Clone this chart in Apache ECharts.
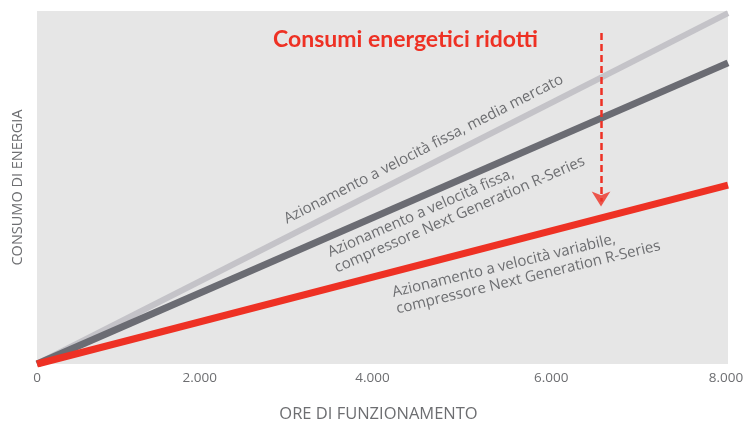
<!DOCTYPE html>
<html><head><meta charset="utf-8">
<script src="https://cdn.jsdelivr.net/npm/echarts@6/dist/echarts.min.js"></script>
<style>html,body{margin:0;padding:0;background:#fff}#c{width:744px;height:421px}</style>
</head><body><div id="c"></div>
<script>
// ---- data ----
const xTicks = [0, 2000, 4000, 6000, 8000];
const hours = [0, 8000];
const marketFixed = [0, 99.4];      // Azionamento a velocità fissa, media mercato
const nextGenFixed = [0, 85.3];     // velocità fissa, Next Generation R-Series
const nextGenVariable = [0, 50.7];  // velocità variabile, Next Generation R-Series
const arrowX = 6530;
const arrowY = [93.8, 46];          // dashed shaft: from / to
const arrowHeadY = [44.6];          // arrow head centre
const titleText = 'Consumi energetici ridotti';
const noteTexts = [
  'Azionamento a velocità fissa, media mercato',
  'Azionamento a velocità fissa,\ncompressore Next Generation R-Series',
  'Azionamento a velocità variabile,\ncompressore Next Generation R-Series'
];
// annotation anchors (data coordinates) and angles
const noteAnchors = [[2871, 40.8], [3415, 29.2], [4139, 17.8]];
const noteAngles = [27, 23.5, 13.6];
// horizontal nudge of tick labels as printed in the reference (px)
const tickNudge = [0, -10, -10, -4, -2];

const GRAY = '#6d6e71';
const RED = '#ee3124';
const FONT = '"Open Sans", "Noto Sans", sans-serif';
const fmt = v => String(v).replace(/\B(?=(\d{3})+(?!\d))/g, '.');
const pairs = ys => hours.map((h, i) => [h, ys[i]]);
const rich = {};
tickNudge.forEach((n, i) => {
  rich['t' + i] = {color: GRAY, fontSize: 13.5, fontFamily: FONT,
    padding: n < 0 ? [0, -2 * n, 0, 0] : [0, 0, 0, 2 * n]};
});

const chart = echarts.init(document.getElementById('c'), null, {renderer: 'canvas'});
chart.setOption({
  animation: false,
  backgroundColor: '#ffffff',
  title: {
    text: titleText, left: 268, top: 23,
    textStyle: {color: RED, fontSize: 23, fontWeight: 'bold', fontFamily: 'Lato'}
  },
  grid: {left: 37, right: 16, top: 11, bottom: 57, show: true, backgroundColor: '#e6e6e6',
         borderWidth: 0, containLabel: false, outerBoundsMode: 'none'},
  xAxis: {
    type: 'value', min: 0, max: 8000, interval: 2000,
    axisLine: {show: false}, axisTick: {show: false}, splitLine: {show: false},
    axisLabel: {color: GRAY, fontSize: 13.5, fontFamily: FONT, margin: 7, rich,
      formatter: v => '{t' + xTicks.indexOf(v) + '|' + fmt(v) + '}'},
    name: 'ORE DI FUNZIONAMENTO', nameLocation: 'middle', nameGap: 42,
    nameTextStyle: {color: GRAY, fontSize: 16.5, fontFamily: FONT, padding: [0, 8, 0, 0]}
  },
  yAxis: {
    type: 'value', min: 0, max: 100,
    axisLine: {show: false}, axisTick: {show: false}, splitLine: {show: false},
    axisLabel: {show: false},
    name: 'CONSUMO DI ENERGIA', nameLocation: 'middle', nameGap: 12, nameRotate: 90,
    nameTextStyle: {color: GRAY, fontSize: 14.5, fontFamily: FONT}
  },
  series: [
    {type: 'line', data: pairs(marketFixed), symbol: 'none', z: 2,
     lineStyle: {color: '#c4c3c8', width: 6, cap: 'butt'}},
    {type: 'line', data: pairs(nextGenFixed), symbol: 'none', z: 3,
     lineStyle: {color: '#6b6c73', width: 7, cap: 'butt'}},
    {type: 'line', data: pairs(nextGenVariable), symbol: 'none', z: 4,
     lineStyle: {color: RED, width: 7, cap: 'butt'},
     markLine: {
       silent: true, symbol: 'none', label: {show: false},
       lineStyle: {color: RED, width: 2.5, type: [7, 4]},
       data: [[{coord: [arrowX, arrowY[0]]}, {coord: [arrowX, arrowY[1]]}]]
     }},
    {type: 'scatter', data: arrowHeadY.map(y => [arrowX, y]), symbol: 'arrow', symbolRotate: 180,
     symbolSize: [14, 15], z: 5, silent: true, itemStyle: {color: RED}}
  ]
});

chart.setOption({
  graphic: noteTexts.map((t, i) => {
    const p = chart.convertToPixel({gridIndex: 0}, noteAnchors[i]);
    return {
      type: 'text', x: p[0], y: p[1], rotation: noteAngles[i] * Math.PI / 180, z: 100,
      style: {text: t, fill: GRAY, fontSize: 15, fontFamily: FONT,
              align: 'left', verticalAlign: 'middle', textAlign: 'left', textVerticalAlign: 'middle', lineHeight: 17}
    };
  })
});
</script></body></html>
